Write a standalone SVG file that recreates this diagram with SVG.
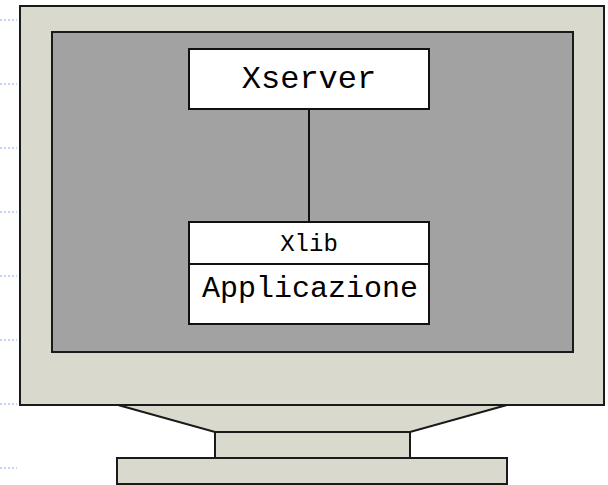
<svg xmlns="http://www.w3.org/2000/svg" width="608" height="485" viewBox="0 0 608 485">
<style>
.dot{stroke:#c4d3f2;stroke-width:2;stroke-dasharray:2 2}
.case{fill:#d9d9ce;stroke:#1a1a1a;stroke-width:2}
.screen{fill:#a2a2a2;stroke:#1a1a1a;stroke-width:2}
.box{fill:#ffffff;stroke:#111;stroke-width:2}
.t{font-family:"Liberation Mono","Courier New",monospace;fill:#000;text-anchor:middle}
</style>
<rect width="608" height="485" fill="#ffffff"/>
<g id="guides">
<line class="dot" x1="0" y1="20" x2="17" y2="20"/>
<line class="dot" x1="0" y1="84" x2="17" y2="84"/>
<line class="dot" x1="0" y1="148" x2="17" y2="148"/>
<line class="dot" x1="0" y1="212" x2="17" y2="212"/>
<line class="dot" x1="0" y1="276" x2="17" y2="276"/>
<line class="dot" x1="0" y1="340" x2="17" y2="340"/>
<line class="dot" x1="0" y1="404" x2="17" y2="404"/>
<line class="dot" x1="0" y1="468" x2="17" y2="468"/>
</g>
<g id="monitor">
<polygon class="case" points="118,405 507,405 410,432 215,432"/>
<rect class="case" x="215" y="432" width="195" height="26"/>
<rect class="case" x="117" y="458" width="390" height="26"/>
<rect class="case" x="20" y="6" width="584" height="399"/>
<rect class="screen" x="52" y="32" width="521" height="320"/>
</g>
<g id="connectors">
<line x1="309" y1="109" x2="309" y2="222" stroke="#111" stroke-width="2"/>
</g>
<g id="xserver">
<rect class="box" x="189" y="49" width="240" height="60"/>
<text class="t" x="309" y="88" font-size="32">Xserver</text>
</g>
<g id="applicazione">
<rect class="box" x="189" y="222" width="240" height="102"/>
<line x1="189" y1="264" x2="429" y2="264" stroke="#111" stroke-width="2"/>
<text class="t" x="309" y="251" font-size="24">Xlib</text>
<text class="t" x="310" y="297" font-size="30">Applicazione</text>
</g>
</svg>
